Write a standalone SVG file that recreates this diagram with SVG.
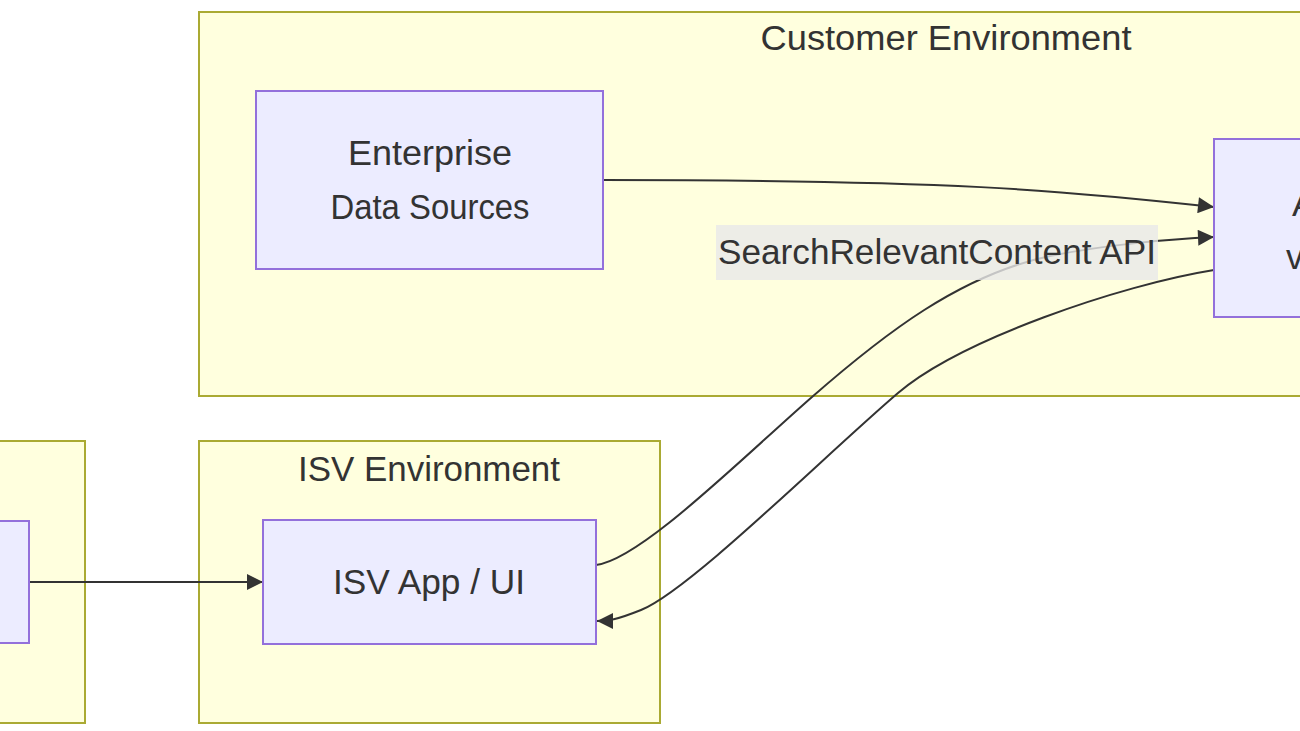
<svg xmlns="http://www.w3.org/2000/svg" width="1300" height="731" viewBox="0 0 1300 731">
<defs>
<style>
.cluster{fill:#ffffde;stroke:#aaaa33;stroke-width:2}
.node{fill:#ececff;stroke:#9370db;stroke-width:2}
.edge{fill:none;stroke:#333333;stroke-width:2}
.t{font-family:"Liberation Sans",Arial,sans-serif;font-size:35px;fill:#333333;text-anchor:middle}
.ts{font-family:"Liberation Sans",Arial,sans-serif;font-size:35px;fill:#333333}
.lblbg{fill:rgba(232,232,232,0.8)}
</style>
<marker id="arrow" viewBox="0 0 10 10" refX="10" refY="5" markerUnits="userSpaceOnUse" markerWidth="18" markerHeight="16" orient="auto">
<path d="M0,0 L10,5 L0,10 z" fill="#333333"/>
</marker>
</defs>
<rect width="1300" height="731" fill="#ffffff"/>
<g id="clusters">
<g id="cluster-customer">
<rect class="cluster" x="199" y="12" width="1120" height="384"/>
<text class="t" x="946" y="50" textLength="371" lengthAdjust="spacingAndGlyphs">Customer Environment</text>
</g>
<g id="cluster-isv">
<rect class="cluster" x="199" y="441" width="461" height="282"/>
<text class="t" x="429" y="481" textLength="262" lengthAdjust="spacingAndGlyphs">ISV Environment</text>
</g>
<g id="cluster-left">
<rect class="cluster" x="-20" y="441" width="105" height="282"/>
</g>
</g>
<g id="connectors">
<path class="edge" d="M29,582 L263,582" marker-end="url(#arrow)"/>
<path class="edge" d="M603,180 C950,180 1060,190 1214,207" marker-end="url(#arrow)"/>
<path class="edge" d="M596,565 C640,560 740,460 812,397 C884,334 960,275 1050,256 C1104,245 1170,239 1214,237" marker-end="url(#arrow)"/>
<path class="edge" d="M1214,270 C1120,285 960,340 898,393 C823.6,456.6 690,590 641,610 C616,620 608,621 597,621" marker-end="url(#arrow)"/>
<g id="edge-label">
<rect class="lblbg" x="716" y="225" width="442" height="55"/>
<text class="t" x="937" y="264" textLength="438" lengthAdjust="spacingAndGlyphs">SearchRelevantContent API</text>
</g>
</g>
<g id="node-enterprise">
<rect class="node" x="256" y="91" width="347" height="178"/>
<text class="t" x="430" y="165" textLength="164" lengthAdjust="spacingAndGlyphs">Enterprise</text>
<text class="t" x="430" y="219" textLength="199" lengthAdjust="spacingAndGlyphs">Data Sources</text>
</g>
<g id="node-right">
<rect class="node" x="1214" y="139" width="110" height="178"/>
<text class="ts" x="1292" y="216">A</text>
<text class="ts" x="1286" y="269">v</text>
</g>
<g id="node-isvapp">
<rect class="node" x="263" y="520" width="333" height="124"/>
<text class="t" x="429" y="594" textLength="192" lengthAdjust="spacingAndGlyphs">ISV App / UI</text>
</g>
<g id="node-left">
<rect class="node" x="-20" y="521" width="49" height="122"/>
</g>
</svg>
